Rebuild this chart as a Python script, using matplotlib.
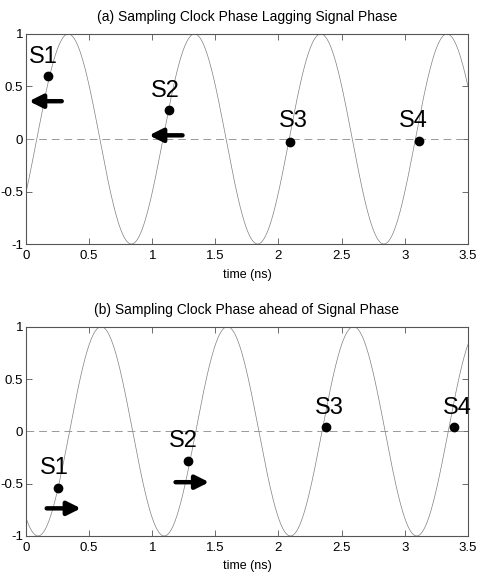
import matplotlib.pyplot as plt
import numpy as np

plt.rcParams['font.family'] = ['Liberation Sans', 'DejaVu Sans']

# signal: 1 GHz sine, time of rising zero crossing
period_ns = 1.0
zero_cross_a = 0.085
zero_cross_b = 0.345

# sample points (a) lagging
samp_a_x = [0.172, 1.132, 2.09, 3.11]
samp_a_y = [0.60, 0.276, -0.026, -0.016]
lab_a_x = [0.14, 1.106, 2.12, 3.07]
lab_a_y = [0.78, 0.46, 0.17, 0.17]
arrows_a = [(0.283, 0.024, 0.36), (1.24, 0.975, 0.035)]   # (tail x, head x, y)

# sample points (b) ahead
samp_b_x = [0.251, 1.28, 2.373, 3.39]
samp_b_y = [-0.54, -0.286, 0.04, 0.04]
lab_b_x = [0.222, 1.245, 2.40, 3.42]
lab_b_y = [-0.35, -0.095, 0.22, 0.22]
arrows_b = [(0.164, 0.435, -0.736), (1.185, 1.451, -0.486)]

labels = ["S1", "S2", "S3", "S4"]
titles = ["(a) Sampling Clock Phase Lagging Signal Phase",
          "(b) Sampling Clock Phase ahead of Signal Phase"]

t = np.linspace(0, 3.5, 1000)

fig = plt.figure(figsize=(5.03, 5.81), dpi=100)
ax_a = fig.add_axes([0.0517, 0.580, 0.8783, 0.3615])
ax_b = fig.add_axes([0.0517, 0.0775, 0.8783, 0.3602])

panels = [
    (ax_a, zero_cross_a, samp_a_x, samp_a_y, lab_a_x, lab_a_y, arrows_a, titles[0]),
    (ax_b, zero_cross_b, samp_b_x, samp_b_y, lab_b_x, lab_b_y, arrows_b, titles[1]),
]

for ax, zc, sx, sy, lx, ly, arrs, title in panels:
    ax.plot(t, np.sin(2 * np.pi * (t - zc) / period_ns), color="#808080", lw=0.5)
    ax.axhline(0, color="#999999", lw=0.7, dashes=(8, 5))
    ax.plot(sx, sy, "o", color="black", markersize=6)
    for x, y, s in zip(lx, ly, labels):
        ax.text(x, y, s, fontsize=17, ha="center", va="center")
    for x0, x1, y in arrs:
        ax.annotate("", xy=(x1, y), xytext=(x0, y),
                    arrowprops=dict(arrowstyle="-|>", lw=3.2, color="black",
                                    mutation_scale=20, shrinkA=0, shrinkB=0))
    ax.set_xlim(0, 3.5)
    ax.set_ylim(-1, 1)
    ax.set_xticks([0, 0.5, 1, 1.5, 2, 2.5, 3, 3.5])
    ax.set_xticklabels(["0", "0.5", "1", "1.5", "2", "2.5", "3", "3.5"])
    ax.set_yticks([-1, -0.5, 0, 0.5, 1])
    ax.set_yticklabels(["-1", "-0.5", "0", "0.5", "1"])
    ax.tick_params(direction="in", top=True, right=True, length=4, width=0.6,
                   color="#555555", labelsize=9.5, pad=2)
    ax.tick_params(axis="x", pad=4)
    for sp in ax.spines.values():
        sp.set_color("#555555")
        sp.set_linewidth(0.8)
    ax.set_xlabel("time (ns)", fontsize=9, labelpad=5)
    ax.set_title(title, fontsize=10, pad=9)

fig.savefig("out.png", dpi=100)
